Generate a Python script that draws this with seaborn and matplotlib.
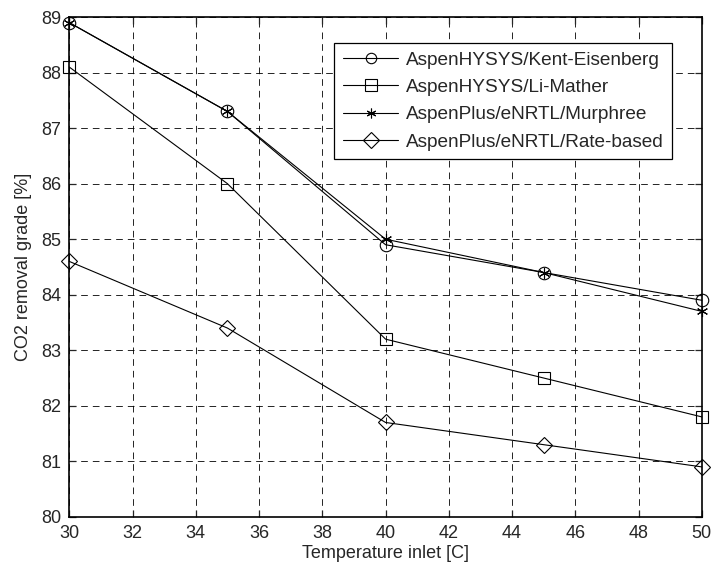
import matplotlib
matplotlib.use("Agg")
import matplotlib.pyplot as plt
import numpy as np
import pandas as pd
import seaborn as sns

temperature = [30, 35, 40, 45, 50]
kent_eisenberg = [88.9, 87.3, 84.9, 84.4, 83.9]
li_mather = [88.1, 86.0, 83.2, 82.5, 81.8]
murphree = [88.9, 87.3, 85.0, 84.4, 83.7]
rate_based = [84.6, 83.4, 81.7, 81.3, 80.9]

series_names = [
    "AspenHYSYS/Kent-Eisenberg",
    "AspenHYSYS/Li-Mather",
    "AspenPlus/eNRTL/Murphree",
    "AspenPlus/eNRTL/Rate-based",
]
series_values = [kent_eisenberg, li_mather, murphree, rate_based]
markers = ["o", "s", (6, 2, 0), "D"]
marker_sizes = [9, 8.5, 8, 8.5]
legend_marker_sizes = [7.5, 8.5, 7, 8.5]

sns.set_style("ticks")
plt.rcParams["font.family"] = ["Liberation Sans", "DejaVu Sans"]

fig = plt.figure(figsize=(7.14, 5.68), dpi=100)
ax = fig.add_axes([0.097, 0.09, 0.886, 0.88])

for name, vals, m, ms in zip(series_names, series_values, markers, marker_sizes):
    df = pd.DataFrame({"x": temperature, "y": vals})
    sns.lineplot(data=df, x="x", y="y", ax=ax, marker=m, markersize=ms,
                 markeredgewidth=0.8, markeredgecolor="black", markerfacecolor="none",
                 color="black", linewidth=0.8, label=name, clip_on=False)

ax.set_xlim(30, 50)
ax.set_ylim(80, 89)
ax.set_xticks(np.arange(30, 51, 2))
ax.set_yticks(np.arange(80, 90, 1))
ax.grid(True, color="black", linestyle=(0, (8, 6)), linewidth=0.6)
ax.tick_params(direction="in", top=True, right=True, labelsize=13, length=5, width=0.9, pad=6)
for s in ax.spines.values():
    s.set_visible(True)
    s.set_linewidth(1.2)
    s.set_color("black")

ax.set_xlabel("Temperature inlet [C]", fontsize=13, labelpad=2)
ax.set_ylabel("CO2 removal grade [%]", fontsize=13, labelpad=6)

leg = ax.legend(loc="upper right", bbox_to_anchor=(0.953, 0.948), borderaxespad=0,
                fontsize=13.7, numpoints=1, handlelength=2.9, frameon=True,
                fancybox=False, edgecolor="black", borderpad=0.45, labelspacing=0.52,
                handletextpad=0.4)
leg.get_frame().set_linewidth(0.9)
leg.get_frame().set_alpha(1)
for h, ms in zip(leg.legend_handles, legend_marker_sizes):
    h.set_markersize(ms)

fig.savefig("out.png", dpi=100)
